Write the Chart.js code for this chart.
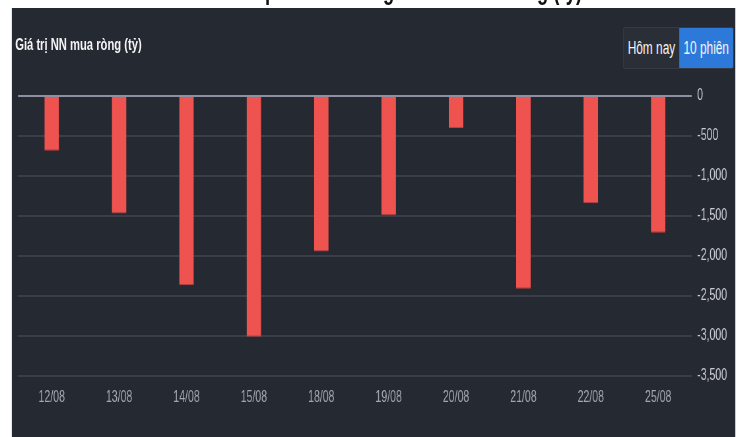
<!DOCTYPE html>
<html>
<head>
<meta charset="utf-8">
<script src="https://cdn.jsdelivr.net/npm/chart.js@4/dist/chart.umd.min.js"></script>
<style>
  html, body { margin:0; padding:0; background:#ffffff; width:738px; height:437px; overflow:hidden; }
  #stage { position:absolute; left:0; top:0; width:1118px; height:437px; transform:scaleX(0.66); transform-origin:0 0; font-family:"Liberation Sans", Arial, sans-serif; }
  #titleClip { position:absolute; left:0; top:0; width:1118px; height:8px; overflow:hidden; }
  #titleText { position:absolute; right:236px; top:-24px; font-size:28px; line-height:28px; font-weight:bold; color:#111; white-space:nowrap; }
  #panel { position:absolute; left:18px; top:8px; width:1096px; height:429px; background:#252931; }
  #header { position:absolute; left:23px; top:35px; font-size:17px; line-height:20px; font-weight:bold; color:#f2f3f5; white-space:nowrap; }
  #btns { position:absolute; left:944px; top:27px; height:40px; display:flex; border:1px solid #3a3e47; border-radius:3px; overflow:hidden; }
  .btn { height:40px; line-height:40px; font-size:18px; color:#f4f5f7; text-align:center; }
  #b1 { width:84px; background:#2a2e36; }
  #b2 { width:82px; background:#2d79d9; }
  #wrap { position:absolute; left:0; top:0; width:1118px; height:437px; }
</style>
</head>
<body>
<div id="stage">
  <div id="titleClip"><div id="titleText">Chi tiết khớp của nước ngoài mua bán ròng (tỷ)</div></div>
  <div id="panel"></div>
  <div id="header">Giá trị NN mua ròng (tỷ)</div>
  <div id="btns"><div class="btn" id="b1">Hôm nay</div><div class="btn" id="b2">10 phiên</div></div>
  <div id="wrap"><canvas id="c"></canvas></div>
</div>
<script>
const dates = ["12/08","13/08","14/08","15/08","18/08","19/08","20/08","21/08","22/08","25/08"];
const netValues = [-685,-1470,-2365,-3010,-1945,-1490,-400,-2410,-1340,-1710];
const yMin = -3500;
const yMax = 0;
const yStep = 500;

new Chart(document.getElementById('c'), {
  type: 'bar',
  data: {
    labels: dates,
    datasets: [{
      data: netValues,
      backgroundColor: '#ef5350',
      borderColor: '#b9423f',
      borderWidth: {top:0, right:0, bottom:1, left:0},
      borderSkipped: false,
      categoryPercentage: 1,
      barPercentage: 0.217
    }]
  },
  options: {
    responsive: true,
    maintainAspectRatio: false,
    animation: false,
    devicePixelRatio: 1,
    layout: { padding: { left: 27.3, top: 96, right: 0, bottom: 0 } },
    plugins: { legend: { display:false }, tooltip: { enabled:false }, title: { display:false } },
    scales: {
      x: {
        grid: { display:false, drawTicks:false },
        border: { display:false },
        ticks: { color:'#a3a6ad', font:{ family:'"Liberation Sans", Arial, sans-serif', size:16 }, padding:12, maxRotation:0, autoSkip:false },
        afterFit: (s) => { s.height = 61; }
      },
      y: {
        position: 'right',
        min: yMin, max: yMax,
        grid: {
          drawTicks:false,
          lineWidth: 2,
          color: (ctx) => (ctx.tick && ctx.tick.value === 0) ? '#8e8fa1' : '#3b3e49'
        },
        border: { display:false },
        ticks: {
          stepSize: yStep,
          color:'#c9cbd1',
          padding: 8,
          font:{ family:'"Liberation Sans", Arial, sans-serif', size:16 },
          callback: (v) => Number(v).toLocaleString('en-US')
        },
        afterFit: (s) => { s.width = 69.7; }
      }
    }
  }
});
</script>
</body>
</html>
